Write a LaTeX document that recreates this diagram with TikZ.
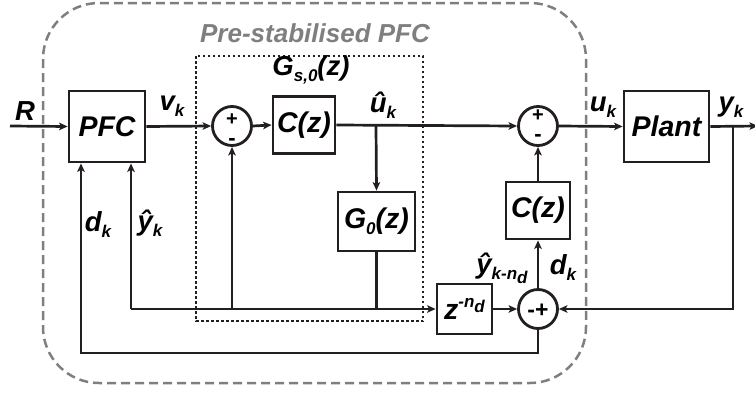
\documentclass[tikz,border=0pt]{standalone}
\usepackage{fontspec}
\setmainfont{Liberation Sans}
\usetikzlibrary{arrows.meta}
\definecolor{lc}{HTML}{231F20}
\definecolor{gc}{HTML}{7F7F7F}
\newcommand\sbs[1]{\raisebox{-0.22em}{\fontsize{17}{17}\selectfont #1}}
\newcommand\zsup{\raisebox{0.45em}{\fontsize{17}{17}\selectfont -n\raisebox{-0.3em}{d}}}
\begin{document}
\begin{tikzpicture}[x=1pt,y=-1pt,
  blk/.style={draw=lc,line width=2.8pt,inner sep=0pt,text=black,
    font=\fontsize{28.5}{32}\selectfont\bfseries\itshape},
  sumc/.style={circle,draw=lc,line width=2.8pt,minimum size=39pt,inner sep=0pt},
  sgn/.style={inner sep=0pt,font=\fontsize{20}{20}\selectfont\bfseries},
  lbl/.style={inner sep=0pt,font=\fontsize{27.5}{30}\selectfont\bfseries\itshape},
  conn/.style={draw=lc,line width=2.7pt},
  arr/.style={conn,-{Stealth[length=8.5pt,width=7.5pt,inset=2pt]}},
]
\useasboundingbox (0,0) rectangle (755,394);
% outer dashed frame and inner dotted frame
\draw[draw=gc,line width=2.5pt,dash pattern=on 9pt off 5pt,rounded corners=56pt]
  (43,3) rectangle (586,383);
\node[inner sep=0pt,text=gc,font=\fontsize{26}{28}\selectfont\bfseries\itshape]
  (title) at (315,33) {Pre-stabilised PFC};
\draw[draw=lc,line width=2.7pt,dash pattern=on 2.5pt off 2.5pt] (196,56) rectangle (423,321);
\node[lbl] (gs0) at (311,70) {G\sbs{s,0}(z)};
% blocks
\node[blk,minimum width=76pt,minimum height=71pt] (pfc) at (107,126.5) {PFC};
\node[sumc] (s1) at (232,126) {};
\node[blk,minimum width=62pt,minimum height=57pt] (c1) at (304,125) {C(z)};
\node[blk,minimum width=77pt,minimum height=59pt] (g0) at (376.5,221.5) {G\sbs{0}(z)};
\node[sumc] (s3) at (538,126) {};
\node[blk,minimum width=64pt,minimum height=57pt] (c2) at (538,210.5) {C(z)};
\node[blk,minimum width=85pt,minimum height=71pt] (plant) at (666.5,126.5) {Plant};
\node[blk,minimum width=55pt,minimum height=50pt] (zb) at (464.5,309) {z\zsup};
\node[sumc] (s2) at (538,309) {};
% signs
\node[sgn] (s1p) at (232,119.5) {+};
\node[sgn,font=\fontsize{22}{22}\selectfont\bfseries] (s1m) at (232,142) {-};
\node[sgn] (s3p) at (538,115.5) {+};
\node[sgn,font=\fontsize{22}{22}\selectfont\bfseries] (s3m) at (538,138) {-};
\node[sgn,font=\fontsize{23}{23}\selectfont\bfseries] (s2s) at (538,311) {-+};
% coordinates
\coordinate (rin) at (10,126);
\coordinate (uh) at (376,126);
\coordinate (yb) at (733,126);
\coordinate (yout) at (758,126);
\coordinate (fbl) at (131,309);
\coordinate (fbm) at (232,309);
\coordinate (dl) at (81,353);
% connectors
\draw[arr] (rin) -- (pfc.west);
\draw[arr] (pfc.east) -- (s1.west);
\draw[arr] (s1.east) -- (c1.west);
\draw[arr] (c1.east) -- (s3.west);
\draw[arr] (uh) -- (g0.north);
\draw[arr] (s3.east) -- (plant.west);
\draw[arr] (plant.east) -- (yout);
\draw[arr] (yb) |- (s2.east);
\draw[arr] (s2.north) -- (c2.south);
\draw[arr] (c2.north) -- (s3.south);
\draw[arr] (zb.east) -- (s2.west);
\draw[conn] (g0.south) -- (g0.south |- fbl);
\draw[arr] (fbl) -- (zb.west);
\draw[arr] (fbl) -- (fbl |- pfc.south);
\draw[arr] (fbm) -- (s1.south);
\draw[arr] (s2.south) |- (dl) -- (dl |- pfc.south);
% signal labels
\node[lbl] (lr) at (25,111) {R};
\node[lbl] (lv) at (172,106) {v\sbs{k}};
\node[lbl] (luh) at (383,105) {û\sbs{k}};
\node[lbl] (lu) at (603,107) {u\sbs{k}};
\node[lbl] (ly) at (731,107) {y\sbs{k}};
\node[lbl] (ld1) at (98,225) {d\sbs{k}};
\node[lbl] (lyh) at (150,223) {ŷ\sbs{k}};
\node[lbl] (lyd) at (502,268) {ŷ\sbs{k-n\sbs{d}}};
\node[lbl] (ld2) at (563,268) {d\sbs{k}};
\end{tikzpicture}
\end{document}
